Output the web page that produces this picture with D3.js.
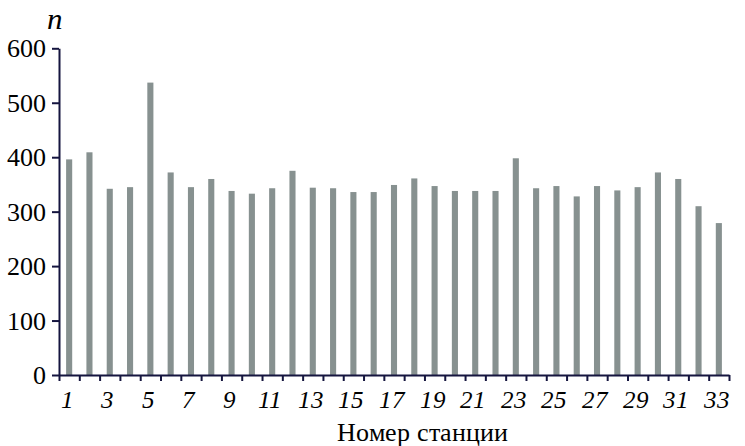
<!DOCTYPE html>
<html><head><meta charset="utf-8">
<script src="https://cdn.jsdelivr.net/npm/d3@7"></script>
<style>
@font-face{font-family:"ChartSerif";src:local("Liberation Serif"),local("LiberationSerif-Regular"),local("Times New Roman");font-style:normal;}
@font-face{font-family:"ChartSerif";src:local("Liberation Serif Italic"),local("LiberationSerif-Italic"),local("Times New Roman Italic");font-style:italic;}
</style>
</head><body style="margin:0">
<svg id="c" width="745" height="446"></svg>
<script>
const stations = d3.range(1, 34);
const values = [396,409,342,345,537,372,345,360,338,333,343,375,344,343,336,336,349,361,347,338,338,338,398,343,347,328,347,339,345,372,360,310,279];
const yTicks = [0,100,200,300,400,500,600];
const xTickLabels = stations.filter(d => d % 2 === 1);

const svg = d3.select("#c");
const mLeft = 59, mRight = 729, mTop = 48.3, mBottom = 375;
const axisColor = "#15153f";
const serif = '"ChartSerif", "Liberation Serif", "Times New Roman", serif';
const x = d3.scaleBand().domain(stations).range([mLeft, mRight]).paddingInner(0.7).paddingOuter(0.35);
const y = d3.scaleLinear().domain([0, 600]).range([mBottom, mTop]);

svg.append("g").selectAll("rect").data(values).join("rect")
  .attr("x", (d,i) => x(stations[i]))
  .attr("width", x.bandwidth())
  .attr("y", d => y(d))
  .attr("height", d => y(0) - y(d))
  .attr("fill", "#879190");

const xb = d3.scaleLinear().domain([0, 33]).range([mLeft, mRight]);
const gx = svg.append("g").attr("transform", `translate(0,${mBottom})`)
  .call(d3.axisBottom(xb).tickValues(d3.range(0, 34)).tickSize(6).tickSizeOuter(0).tickFormat(""));
gx.select(".domain").attr("stroke", axisColor).attr("stroke-width", 2);
gx.selectAll(".tick line").attr("stroke", axisColor).attr("stroke-width", 2);

const gy = svg.append("g").attr("transform", `translate(${mLeft},0)`)
  .call(d3.axisLeft(y).tickValues(yTicks).tickSize(7).tickSizeOuter(0).tickFormat(""));
gy.select(".domain").attr("stroke", axisColor).attr("stroke-width", 2);
gy.selectAll(".tick line").attr("stroke", axisColor).attr("stroke-width", 2);

svg.selectAll("text.xl").data(xTickLabels).join("text").attr("class", "xl")
  .attr("x", d => x(d) + x.bandwidth()/2 - 2)
  .attr("y", 408)
  .attr("text-anchor", "middle")
  .attr("font-size", 25)
  .attr("font-style", "italic")
  .style("font-family", serif)
  .text(d => d);

svg.selectAll("text.yl").data(yTicks).join("text").attr("class", "yl")
  .attr("x", mLeft - 13)
  .attr("y", d => y(d) + 9)
  .attr("text-anchor", "end")
  .attr("font-size", 26)
  .style("font-family", serif)
  .text(d => d);

svg.append("text").attr("x", 55).attr("y", 29).attr("text-anchor", "middle")
  .attr("font-size", 31).attr("font-style", "italic").style("font-family", serif).text("n");
svg.append("text").attr("x", 422).attr("y", 441).attr("text-anchor", "middle")
  .attr("font-size", 26).style("font-family", serif).text("Номер станции");
</script>
</body></html>
